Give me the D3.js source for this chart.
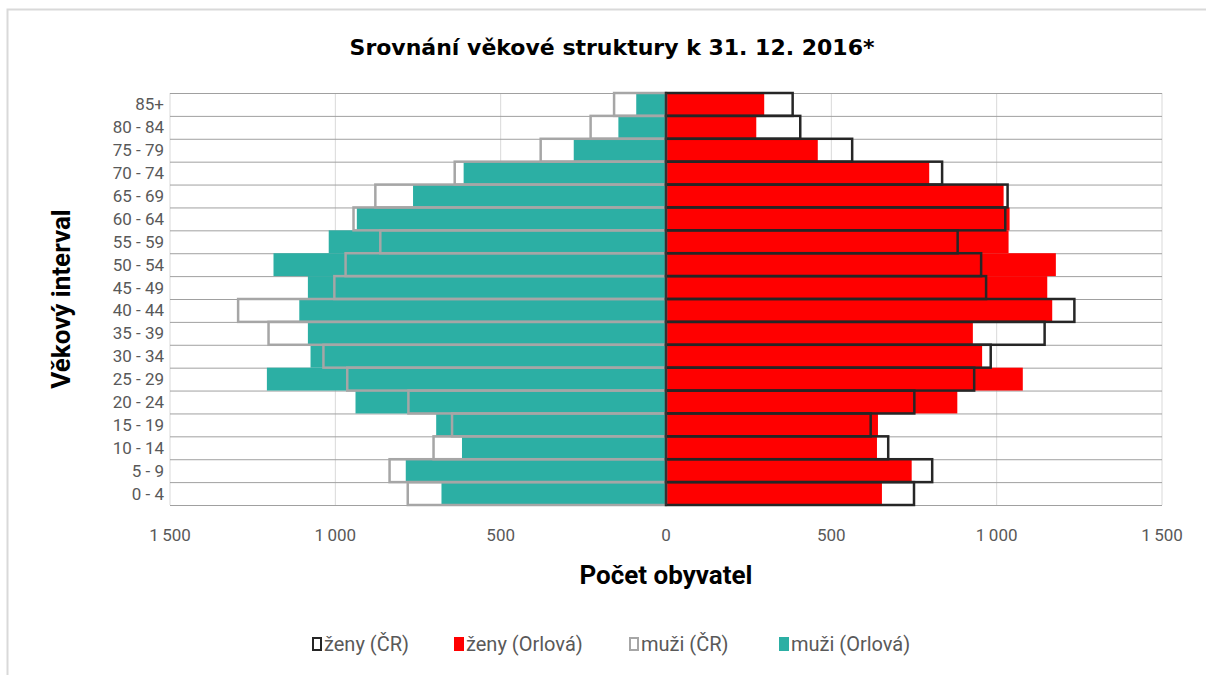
<!DOCTYPE html>
<html>
<head>
<meta charset="utf-8">
<script src="https://cdn.jsdelivr.net/npm/d3@7"></script>
<style>
  body { margin: 0; background: #fff; }
  svg text { font-family: Roboto, "Liberation Sans", sans-serif; }
</style>
</head>
<body>
<div id="container"></div>
<script>
/**
 * DATA
 * */
const ageGroups = ["85+", "80 - 84", "75 - 79", "70 - 74", "65 - 69", "60 - 64", "55 - 59", "50 - 54",
  "45 - 49", "40 - 44", "35 - 39", "30 - 34", "25 - 29", "20 - 24", "15 - 19", "10 - 14", "5 - 9", "0 - 4"];

const muziOrlova = [90, 144, 279, 612, 765, 935, 1020, 1187, 1083, 1109, 1083, 1075, 1207, 939, 695, 617, 787, 679];
const muziCR     = [157, 228, 379, 639, 879, 945, 864, 969, 1003, 1294, 1202, 1036, 964, 779, 647, 703, 836, 781];
const zenyOrlova = [297, 273, 459, 796, 1021, 1039, 1036, 1179, 1153, 1168, 928, 956, 1079, 881, 641, 638, 743, 653];
const zenyCR     = [383, 406, 563, 835, 1033, 1026, 882, 953, 968, 1235, 1145, 982, 932, 751, 619, 672, 805, 750];

const xTicks = [-1500, -1000, -500, 0, 500, 1000, 1500];

const legendItems = [
  { name: "ženy (ČR)", fill: "#fff", stroke: "#262626" },
  { name: "ženy (Orlová)", fill: "#ff0000", stroke: "none" },
  { name: "muži (ČR)", fill: "#fff", stroke: "#a6a6a6" },
  { name: "muži (Orlová)", fill: "#2cafa4", stroke: "none" }
];

/**
 * LAYOUT
 * */
const width = 1206, height = 675;
const plot = { left: 170, right: 1162, top: 93, bottom: 505 };

const svg = d3.select("#container")
  .append("svg")
  .attr("width", width)
  .attr("height", height);

// chart frame (only top and left edge show)
svg.append("path")
  .attr("d", `M7.5,${height} V9.5 H${width}`)
  .attr("fill", "none")
  .attr("stroke", "#d9d9d9")
  .attr("stroke-width", 2);

const x = d3.scaleLinear().domain([-1500, 1500]).range([plot.left, plot.right]);
const y = d3.scaleBand().domain(ageGroups).range([plot.top, plot.bottom]).padding(0);

// vertical gridlines
svg.append("g")
  .selectAll("line")
  .data(xTicks)
  .join("line")
  .attr("x1", d => x(d)).attr("x2", d => x(d))
  .attr("y1", plot.top).attr("y2", plot.bottom)
  .attr("stroke", "#d9d9d9")
  .attr("stroke-width", 1);

// horizontal category lines
svg.append("g")
  .selectAll("line")
  .data(ageGroups.concat(["end"]))
  .join("line")
  .attr("x1", plot.left).attr("x2", plot.right)
  .attr("y1", (d, i) => plot.top + i * y.step() + 0.5)
  .attr("y2", (d, i) => plot.top + i * y.step() + 0.5)
  .attr("stroke", "#a0a0a0")
  .attr("stroke-width", 1);

// men Orlová (filled)
svg.append("g")
  .selectAll("rect")
  .data(muziOrlova)
  .join("rect")
  .attr("x", d => x(-d))
  .attr("y", (d, i) => y(ageGroups[i]))
  .attr("width", d => x(0) - x(-d))
  .attr("height", y.bandwidth())
  .attr("fill", "#2cafa4");

// women Orlová (filled)
svg.append("g")
  .selectAll("rect")
  .data(zenyOrlova)
  .join("rect")
  .attr("x", x(0))
  .attr("y", (d, i) => y(ageGroups[i]))
  .attr("width", d => x(d) - x(0))
  .attr("height", y.bandwidth())
  .attr("fill", "#ff0000");

// men ČR (outline)
svg.append("g")
  .selectAll("rect")
  .data(muziCR)
  .join("rect")
  .attr("x", d => x(-d))
  .attr("y", (d, i) => y(ageGroups[i]))
  .attr("width", d => x(0) - x(-d))
  .attr("height", y.bandwidth())
  .attr("fill", "none")
  .attr("stroke", "#a6a6a6")
  .attr("stroke-width", 2.5);

// women ČR (outline)
svg.append("g")
  .selectAll("rect")
  .data(zenyCR)
  .join("rect")
  .attr("x", x(0))
  .attr("y", (d, i) => y(ageGroups[i]))
  .attr("width", d => x(d) - x(0))
  .attr("height", y.bandwidth())
  .attr("fill", "none")
  .attr("stroke", "#262626")
  .attr("stroke-width", 2.5);

// zero axis
svg.append("line")
  .attr("x1", x(0)).attr("x2", x(0))
  .attr("y1", plot.top).attr("y2", plot.bottom)
  .attr("stroke", "#404040")
  .attr("stroke-width", 1);

// category labels
svg.append("g")
  .selectAll("text")
  .data(ageGroups)
  .join("text")
  .attr("x", plot.left - 6)
  .attr("y", d => y(d) + y.bandwidth() / 2)
  .attr("dy", "0.35em")
  .attr("text-anchor", "end")
  .attr("fill", "#595959")
  .attr("font-size", 17)
  .text(d => d);

// value tick labels
const fmt = v => d3.format(",")(Math.abs(v)).replace(/,/g, "\u2009");
svg.append("g")
  .selectAll("text")
  .data(xTicks)
  .join("text")
  .attr("x", d => x(d))
  .attr("y", 541)
  .attr("text-anchor", "middle")
  .attr("fill", "#595959")
  .attr("font-size", 17)
  .text(d => fmt(d));

// titles
svg.append("text")
  .attr("x", 612).attr("y", 55)
  .attr("text-anchor", "middle")
  .attr("font-size", 22)
  .attr("font-weight", "bold")
  .style("font-family", "'DejaVu Sans', sans-serif")
  .attr("fill", "#000")
  .text("Srovnání věkové struktury k 31. 12. 2016*");

svg.append("text")
  .attr("x", x(0)).attr("y", 584)
  .attr("text-anchor", "middle")
  .attr("font-size", 26)
  .attr("font-weight", "bold")
  .attr("fill", "#000")
  .text("Počet obyvatel");

svg.append("text")
  .attr("transform", `translate(70,${(plot.top + plot.bottom) / 2}) rotate(-90)`)
  .attr("text-anchor", "middle")
  .attr("font-size", 26)
  .attr("font-weight", "bold")
  .attr("fill", "#000")
  .text("Věkový interval");

// legend
const legendX = [312, 454, 629, 779];
const legend = svg.append("g")
  .selectAll("g")
  .data(legendItems)
  .join("g")
  .attr("transform", (d, i) => `translate(${legendX[i]},644)`);

legend.append("rect")
  .attr("x", d => d.stroke === "none" ? 0 : 1)
  .attr("y", d => d.stroke === "none" ? -7 : -6)
  .attr("width", d => d.stroke === "none" ? 10 : 8)
  .attr("height", d => d.stroke === "none" ? 14 : 12)
  .attr("fill", d => d.fill)
  .attr("stroke", d => d.stroke)
  .attr("stroke-width", 2);

legend.append("text")
  .attr("x", 12)
  .attr("dy", "0.35em")
  .attr("fill", "#595959")
  .attr("font-size", 20)
  .text(d => d.name);
</script>
</body>
</html>
